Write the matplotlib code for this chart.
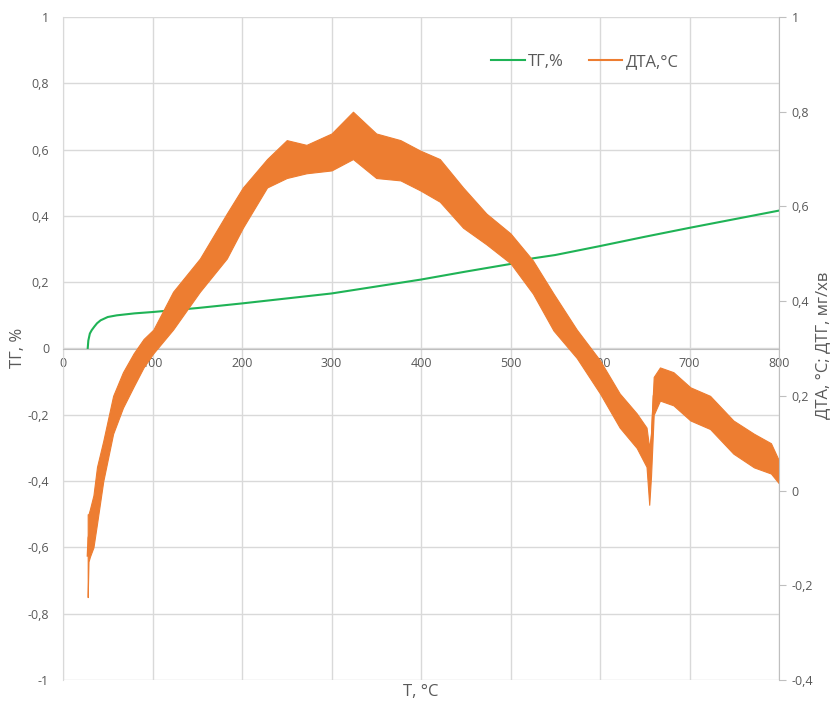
import matplotlib.pyplot as plt
from matplotlib.ticker import FuncFormatter, MultipleLocator

plt.rcParams['font.family'] = ['Open Sans', 'DejaVu Sans']

# TG curve (left axis)
tg_t = [27.6, 28.3, 30, 32, 35, 38, 42, 50, 60, 80, 100, 150, 200, 250,
        300, 350, 400, 450, 500, 525, 550, 600, 650, 700, 750, 800]
tg_val = [0.0, 0.024, 0.045, 0.055, 0.066, 0.076, 0.085, 0.095, 0.100, 0.106,
          0.110, 0.122, 0.136, 0.151, 0.166, 0.187, 0.208, 0.232, 0.255, 0.272,
          0.282, 0.309, 0.337, 0.364, 0.390, 0.416]

# DTA noisy band (right axis): lower and upper edge of the trace
dta_t = [27.6, 28.5, 30, 34, 38, 45, 56, 67, 79, 90, 101, 123, 153, 183, 201,
         228, 250, 272, 300, 324, 350, 377, 399, 421, 447, 473, 500, 525, 548,
         574, 600, 622, 641, 652, 655, 657, 660, 667, 682, 701, 723, 749, 772,
         791, 800]
dta_lo = [-0.225, -0.15, -0.14, -0.12, -0.07, 0.02, 0.12, 0.175, 0.22, 0.26,
          0.29, 0.34, 0.42, 0.49, 0.555, 0.64, 0.66, 0.67, 0.676, 0.70, 0.66,
          0.655, 0.634, 0.61, 0.555, 0.52, 0.48, 0.416, 0.338, 0.28, 0.205,
          0.133, 0.09, 0.05, -0.03, 0.03, 0.16, 0.19, 0.18, 0.148, 0.13, 0.078,
          0.049, 0.036, 0.015]
dta_hi = [-0.05, -0.05, -0.04, -0.01, 0.05, 0.105, 0.20, 0.25, 0.29, 0.32,
          0.34, 0.42, 0.49, 0.585, 0.64, 0.70, 0.74, 0.73, 0.754, 0.80, 0.754,
          0.74, 0.718, 0.70, 0.64, 0.585, 0.543, 0.486, 0.416, 0.34, 0.275,
          0.205, 0.163, 0.133, 0.09, 0.12, 0.24, 0.26, 0.25, 0.218, 0.20, 0.148,
          0.12, 0.10, 0.063]
dta_mid = [(a + b) / 2 for a, b in zip(dta_lo, dta_hi)]

green = '#1fb356'
orange = '#ed7d31'
grey = '#595959'
gridc = '#d9d9d9'

fig = plt.figure(figsize=(8.37, 7.04), dpi=100)
ax = fig.add_axes([63 / 837, 24 / 704, 716 / 837, 663 / 704])
ax2 = ax.twinx()

ax.plot(tg_t, tg_val, color=green, lw=1.5, label='ТГ,%')
ax2.fill_between(dta_t, dta_lo, dta_hi, color=orange, lw=0.8, edgecolor=orange)
ax2.plot(dta_t, dta_mid, color=orange, lw=1.5, label='ДТА,°С')

ax.set_xlim(0, 800)
ax.set_ylim(-1, 1)
ax2.set_ylim(-0.4, 1)
ax.xaxis.set_major_locator(MultipleLocator(100))
ax.yaxis.set_major_locator(MultipleLocator(0.2))
ax2.yaxis.set_major_locator(MultipleLocator(0.2))

comma = FuncFormatter(lambda v, p: ('%g' % round(v, 2)).replace('.', ','))
ax.yaxis.set_major_formatter(comma)
ax2.yaxis.set_major_formatter(comma)

ax.grid(True, color=gridc, lw=1)
ax.set_axisbelow(True)

# x axis crosses at TG = 0
ax.spines['bottom'].set_position(('data', 0))
ax.spines['bottom'].set_color('#bfbfbf')
ax.spines['left'].set_color(gridc)
ax.spines['top'].set_visible(False)
ax.spines['right'].set_visible(False)
ax2.spines['top'].set_visible(False)
ax2.spines['left'].set_visible(False)
ax2.spines['bottom'].set_visible(False)
ax2.spines['right'].set_color('#bfbfbf')

ax.tick_params(axis='x', length=0, labelsize=9, labelcolor=grey, pad=6)
ax.tick_params(axis='y', length=0, labelsize=9, labelcolor=grey, pad=10)
ax2.tick_params(axis='y', length=5, color='#bfbfbf', labelsize=9,
                labelcolor=grey, pad=4)

fig.text(421 / 837, 1 - 692 / 704, 'T, °C', ha='center', va='center',
         fontsize=12, color=grey)
fig.text(18 / 837, 1 - 348 / 704, 'ТГ, %', ha='center', va='center',
         rotation=90, fontsize=12, color=grey)
fig.text(823 / 837, 1 - 345 / 704, 'ДТА, °С; ДТГ, мг/хв', ha='center',
         va='center', rotation=90, fontsize=12, color=grey)

h1, l1 = ax.get_legend_handles_labels()
h2, l2 = ax2.get_legend_handles_labels()
leg = ax2.legend(h1 + h2, l1 + l2, loc='center', bbox_to_anchor=(585 / 837, 1 - 62 / 704),
                 bbox_transform=fig.transFigure, ncol=2, frameon=False,
                 fontsize=12, handlelength=2, handletextpad=0.2, columnspacing=1.5)
for t in leg.get_texts():
    t.set_color(grey)

fig.savefig('out.png', dpi=100)
